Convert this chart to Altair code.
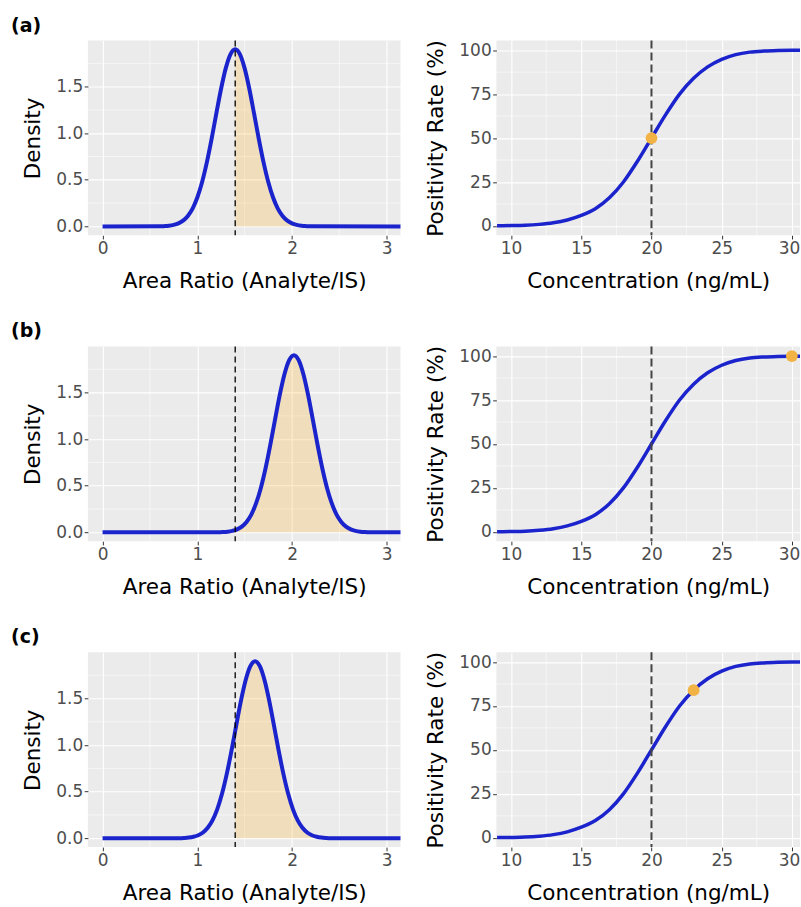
import altair as alt
import pandas as pd

# ---------------- data ----------------
PANEL_LABELS = ["(a)", "(b)", "(c)"]

# density curves (area ratio vs density)
RATIO_A = [0.0, 0.60, 0.65, 0.70, 0.75, 0.80, 0.85, 0.90, 0.95, 1.00, 1.05, 1.10, 1.15,
           1.20, 1.25, 1.30, 1.35, 1.40, 1.45, 1.50, 1.55, 1.60, 1.65, 1.70, 1.75, 1.80,
           1.85, 1.90, 1.95, 2.00, 2.05, 2.10, 2.15, 2.20, 3.15]
DENS_A = [0.0, 0.001, 0.003, 0.007, 0.016, 0.032, 0.062, 0.112, 0.191, 0.310, 0.474, 0.685,
          0.935, 1.207, 1.472, 1.696, 1.847, 1.900, 1.847, 1.696, 1.472, 1.207, 0.935, 0.685,
          0.474, 0.310, 0.191, 0.112, 0.062, 0.032, 0.016, 0.007, 0.003, 0.001, 0.0]

RATIO_B = [0.0, 1.22, 1.27, 1.32, 1.37, 1.40, 1.42, 1.47, 1.52, 1.57, 1.62, 1.67, 1.72,
           1.77, 1.82, 1.87, 1.92, 1.97, 2.02, 2.07, 2.12, 2.17, 2.22, 2.27, 2.32, 2.37,
           2.42, 2.47, 2.52, 2.57, 2.62, 2.67, 2.72, 2.77, 2.82, 3.15]
DENS_B = [0.0, 0.001, 0.003, 0.007, 0.016, 0.024, 0.032, 0.062, 0.112, 0.191, 0.310, 0.474,
          0.685, 0.935, 1.207, 1.472, 1.696, 1.847, 1.900, 1.847, 1.696, 1.472, 1.207, 0.935,
          0.685, 0.474, 0.310, 0.191, 0.112, 0.062, 0.032, 0.016, 0.007, 0.003, 0.001, 0.0]

RATIO_C = [0.0, 0.81, 0.86, 0.91, 0.96, 1.01, 1.06, 1.11, 1.16, 1.21, 1.26, 1.31, 1.36,
           1.40, 1.41, 1.46, 1.51, 1.56, 1.61, 1.66, 1.71, 1.76, 1.81, 1.86, 1.91, 1.96,
           2.01, 2.06, 2.11, 2.16, 2.21, 2.26, 2.31, 2.36, 2.41, 3.15]
DENS_C = [0.0, 0.001, 0.003, 0.007, 0.016, 0.032, 0.062, 0.112, 0.191, 0.310, 0.474, 0.685,
          0.935, 1.152, 1.207, 1.472, 1.696, 1.847, 1.900, 1.847, 1.696, 1.472, 1.207, 0.935,
          0.685, 0.474, 0.310, 0.191, 0.112, 0.062, 0.032, 0.016, 0.007, 0.003, 0.001, 0.0]

THRESH_RATIO = 1.4

# positivity curve (concentration vs positivity rate)
CONC = [9, 10, 11, 12, 13, 14, 15, 16, 17, 18, 19, 20, 21, 22, 23, 24, 25, 26, 27, 28, 29, 30, 31]
RATE = [0.1, 0.2, 0.4, 0.9, 1.8, 3.4, 6.0, 9.8, 16.0, 25.0, 36.8, 50.0, 63.2, 75.0, 84.0,
        90.5, 94.8, 97.5, 98.9, 99.5, 99.8, 99.95, 100.0]
THRESH_CONC = 20
POINT_CONC = [20, 30, 23]
POINT_RATE = [50, 100, 84]

LEFT_X_TICKS = [0, 1, 2, 3]
LEFT_Y_TICKS = [0.0, 0.5, 1.0, 1.5]
LEFT_MINOR_X = [0.5, 1.5, 2.5]
LEFT_MINOR_Y = [0.25, 0.75, 1.25, 1.75]
RIGHT_X_TICKS = [10, 15, 20, 25, 30]
RIGHT_Y_TICKS = [0, 25, 50, 75, 100]
RIGHT_MINOR_X = [12.5, 17.5, 22.5, 27.5]
RIGHT_MINOR_Y = [12.5, 37.5, 62.5, 87.5]

# ---------------- styling ----------------
BLUE = "#1B24CC"
DOT = "#F2B344"
FONT = "DejaVu Sans"
LW, RW, H = 313, 304, 195


def left_panel(xs, ys, label):
    df = pd.DataFrame({"x": xs, "y": ys, "y0": [0.0] * len(xs)})
    xenc = alt.X("x:Q", scale=alt.Scale(domain=[-0.155, 3.145], nice=False, zero=False),
                 axis=alt.Axis(values=LEFT_X_TICKS, format="d", title="Area Ratio (Analyte/IS)"))
    yenc = alt.Y("y:Q", scale=alt.Scale(domain=[-0.095, 1.995], nice=False, zero=False),
                 axis=alt.Axis(values=LEFT_Y_TICKS, format=".1f", title="Density"))
    minor_x = alt.Chart(pd.DataFrame({"x": LEFT_MINOR_X})).mark_rule(
        color="white", strokeWidth=0.55).encode(x=xenc)
    minor_y = alt.Chart(pd.DataFrame({"y": LEFT_MINOR_Y})).mark_rule(
        color="white", strokeWidth=0.55).encode(y=yenc)
    area = alt.Chart(df).transform_filter(alt.datum.x >= THRESH_RATIO).mark_area(
        color="orange", opacity=0.2, interpolate="monotone", clip=True
    ).encode(x=xenc, y=yenc, y2="y0:Q")
    line = alt.Chart(df).mark_line(
        color=BLUE, strokeWidth=4, interpolate="monotone", clip=True
    ).encode(x=xenc, y=yenc)
    vline = alt.Chart(pd.DataFrame({"x": [THRESH_RATIO]})).mark_rule(
        color="black", strokeWidth=1.3, strokeDash=[6, 4]).encode(x=xenc)
    txt = alt.Chart(pd.DataFrame({"t": [label]})).mark_text(
        align="left", baseline="alphabetic", fontSize=19, fontWeight="bold",
        font=FONT, color="black"
    ).encode(x=alt.value(-77), y=alt.value(-9), text="t:N")
    return alt.layer(minor_x, minor_y, area, line, vline, txt).properties(width=LW, height=H)


def right_panel(pc, pr):
    df = pd.DataFrame({"x": CONC, "y": RATE})
    xenc = alt.X("x:Q", scale=alt.Scale(domain=[8.95, 30.58], nice=False, zero=False),
                 axis=alt.Axis(values=RIGHT_X_TICKS, format="d", title="Concentration (ng/mL)",
                               labelFlush=10, labelFlushOffset=8))
    yenc = alt.Y("y:Q", scale=alt.Scale(domain=[-5.3, 105.5], nice=False, zero=False),
                 axis=alt.Axis(values=RIGHT_Y_TICKS, format="d", title="Positivity Rate (%)"))
    minor_x = alt.Chart(pd.DataFrame({"x": RIGHT_MINOR_X})).mark_rule(
        color="white", strokeWidth=0.55).encode(x=xenc)
    minor_y = alt.Chart(pd.DataFrame({"y": RIGHT_MINOR_Y})).mark_rule(
        color="white", strokeWidth=0.55).encode(y=yenc)
    line = alt.Chart(df).mark_line(
        color=BLUE, strokeWidth=3.5, interpolate="monotone", clip=True
    ).encode(x=xenc, y=yenc)
    vline = alt.Chart(pd.DataFrame({"x": [THRESH_CONC]})).mark_rule(
        color="#444444", strokeWidth=2, strokeDash=[8, 4]).encode(x=xenc)
    pt = alt.Chart(pd.DataFrame({"x": [pc], "y": [pr]})).mark_circle(
        size=140, color=DOT, opacity=1).encode(x=xenc, y=yenc)
    return alt.layer(minor_x, minor_y, line, vline, pt).properties(width=RW, height=H)


left_data = [(RATIO_A, DENS_A), (RATIO_B, DENS_B), (RATIO_C, DENS_C)]
panels = []
for i in range(3):
    panels.append(left_panel(left_data[i][0], left_data[i][1], PANEL_LABELS[i]))
    panels.append(right_panel(POINT_CONC[i], POINT_RATE[i]))

chart = alt.concat(
    *panels, columns=2, spacing={"row": 111.3, "column": 96}, bounds="flush"
).properties(
    padding={"left": 11, "top": 16, "right": 0, "bottom": 0}
).configure_view(
    fill="#EBEBEB", stroke=None
).configure_axis(
    labelFont=FONT, labelFontSize=17, labelColor="#4D4D4D", labelPadding=1.5,
    titleFont=FONT, titleFontSize=21.5, titleColor="black", titleFontWeight="normal",
    tickColor="#333333", tickSize=3.7, tickWidth=1, domain=False,
    gridColor="white", gridWidth=1.1
).configure_axisX(
    titlePadding=14
).configure_axisY(
    titlePadding=11
)

chart.save("out.html", embed_options={"renderer": "svg", "actions": False})
